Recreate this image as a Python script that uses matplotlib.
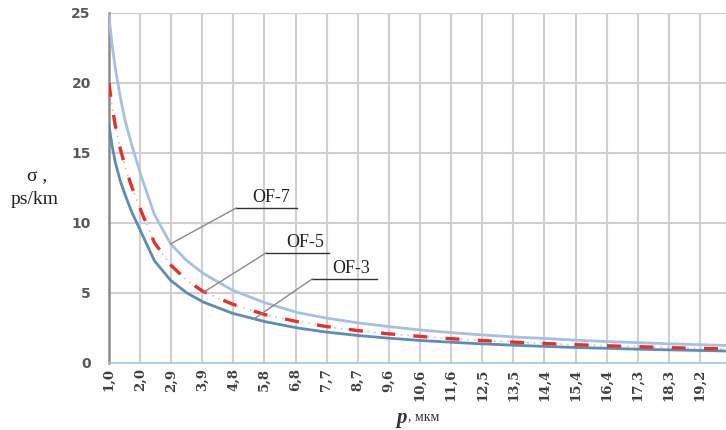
import numpy as np
import matplotlib
matplotlib.use("Agg")
import matplotlib.pyplot as plt

# ---- data ----
tick_labels = ["1,0", "2,0", "2,9", "3,9", "4,8", "5,8", "6,8", "7,7", "8,7", "9,6",
               "10,6", "11,6", "12,5", "13,5", "14,4", "15,4", "16,4", "17,3", "18,3", "19,2"]
p = [1.0, 1.1, 1.2, 1.35, 1.5, 1.7, 2.0, 2.4, 2.9, 3.4, 3.9, 4.8, 5.8, 6.8, 7.7, 8.7, 9.6,
     10.6, 11.6, 12.5, 13.5, 14.4, 15.4, 16.4, 17.3, 18.3, 19.2, 20.0]
of7 = [24.8, 22.7, 21.0, 19.0, 17.3, 15.6, 13.3, 10.6, 8.5, 7.3, 6.4, 5.2, 4.3, 3.6, 3.2,
       2.85, 2.6, 2.35, 2.15, 2.0, 1.85, 1.75, 1.62, 1.52, 1.45, 1.36, 1.3, 1.25]
of5 = [20.0, 18.3, 16.9, 15.3, 14.0, 12.6, 10.8, 8.6, 7.0, 5.9, 5.1, 4.2, 3.45, 2.95, 2.6,
       2.3, 2.08, 1.89, 1.72, 1.6, 1.48, 1.39, 1.3, 1.22, 1.16, 1.09, 1.04, 1.0]
of3 = [17.0, 15.5, 14.3, 13.0, 12.0, 10.8, 9.3, 7.3, 5.9, 5.0, 4.35, 3.55, 2.95, 2.5, 2.2,
       1.95, 1.77, 1.6, 1.47, 1.36, 1.26, 1.18, 1.1, 1.04, 0.98, 0.93, 0.89, 0.85]
yticks = [0, 5, 10, 15, 20, 25]

step = 0.9579
tick_pos = [1.0 + i * step for i in range(len(tick_labels))]

fig = plt.figure(figsize=(7.26, 4.30), dpi=100)
ax = fig.add_axes([0.150, 0.156, 0.850, 0.814])

serif = "Liberation Serif"

# grid
for t in tick_pos:
    ax.axvline(t, color="#d0d0d0", lw=1.5, zorder=0)
for y in yticks[1:]:
    ax.axhline(y, color="#d0d0d0", lw=1.5, zorder=0)

ax.plot(p, of7, color="#a6c1e0", lw=2.0, zorder=3)
ax.plot(p, of5, color="#f4b8a8", lw=1.2, ls=(0, (1, 3)), zorder=3)
ax.plot(p, of5, color="#e8302a", lw=2.4, ls=(0, (4.2, 5.5)), zorder=4)
ax.plot(p, of3, color="#5b8db6", lw=2.0, zorder=3)

ax.set_xlim(1.0, 20.0)
ax.set_ylim(0, 25)
ax.set_xticks(tick_pos)
ax.set_xticklabels(tick_labels, rotation=90, fontsize=9.5, fontweight="bold",
                   family="DejaVu Serif", color="#404040")
ax.set_yticks(yticks)
ax.set_yticklabels([str(v) for v in yticks], fontsize=10, fontweight="bold",
                   family="DejaVu Sans", color="#595959")
ax.tick_params(axis="both", length=0)
ax.tick_params(axis="x", pad=4)
ax.tick_params(axis="y", pad=13)

for s in ["top", "right"]:
    ax.spines[s].set_visible(False)
ax.spines["left"].set_color("#8c8c8c")
ax.spines["left"].set_linewidth(1.8)
ax.spines["bottom"].set_color("#9dc3e6")
ax.spines["bottom"].set_linewidth(1.2)

# annotations
def label(text, tx, ty, ux0, ux1, uy, px, py):
    ax.text(tx, ty, text, ha="center", va="bottom", fontsize=13, family=serif,
            color="#222222", zorder=6)
    ax.plot([ux0, ux1], [uy, uy], color="#333333", lw=1.0, zorder=6, clip_on=False)
    ax.plot([ux0, px], [uy, py], color="#8a8a8a", lw=1.0, zorder=6)

label("OF-7", 6.0, 11.2, 4.92, 6.80, 11.07, 2.9, float(np.interp(2.9, p, of7)))
label("OF-5", 7.05, 8.0, 5.84, 7.79, 7.86, 3.93, float(np.interp(3.93, p, of5)))
label("OF-3", 8.47, 6.12, 7.26, 9.24, 6.0, 5.47, float(np.interp(5.47, p, of3)))

# axis labels
fig.text(37 / 726, 1 - 176 / 430, "σ ,", ha="center", va="center", fontsize=14,
         family=serif, color="#222222")
fig.text(35 / 726, 1 - 199 / 430, "ps/km", ha="center", va="center", fontsize=14,
         family=serif, color="#222222")
fig.text(407 / 726, 1 - 418 / 430, "p", ha="right", va="center", fontsize=15,
         family=serif, style="italic", fontweight="bold", color="#333333")
fig.text(408 / 726, 1 - 417 / 430, ", мкм", ha="left", va="center", fontsize=10,
         family=serif, color="#333333")

fig.savefig("out.png", dpi=100)
